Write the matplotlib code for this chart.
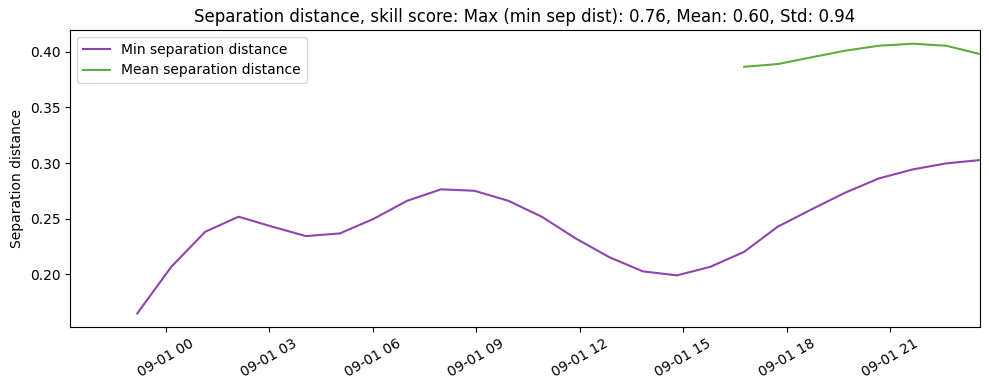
import numpy as np
import pandas as pd
import matplotlib
matplotlib.use("Agg")
import matplotlib.pyplot as plt
import matplotlib.dates as mdates

times = pd.to_datetime([
    "2024-08-31 23:11", "2024-09-01 00:10", "2024-09-01 01:09", "2024-09-01 02:07",
    "2024-09-01 03:06", "2024-09-01 04:04", "2024-09-01 05:03", "2024-09-01 06:01",
    "2024-09-01 07:00", "2024-09-01 07:59", "2024-09-01 08:57", "2024-09-01 09:56",
    "2024-09-01 10:54", "2024-09-01 11:53", "2024-09-01 12:52", "2024-09-01 13:50",
    "2024-09-01 14:49", "2024-09-01 15:47", "2024-09-01 16:46", "2024-09-01 17:44",
    "2024-09-01 18:43", "2024-09-01 19:41", "2024-09-01 20:40", "2024-09-01 21:39",
    "2024-09-01 22:37", "2024-09-01 23:36",
])

min_sep = [0.165, 0.2068, 0.2383, 0.2518, 0.2428, 0.2344, 0.2368, 0.2497,
           0.2661, 0.2764, 0.2751, 0.2661, 0.2518, 0.2323, 0.2153, 0.2027,
           0.1991, 0.2068, 0.2203, 0.2428, 0.2584, 0.2733, 0.2862, 0.2943,
           0.2997, 0.3027]

mean_times = times[18:]
mean_sep = [0.3865, 0.3889, 0.3950, 0.4009, 0.4054, 0.4072, 0.4054, 0.3979]

title = "Separation distance, skill score: Max (min sep dist): 0.76, Mean: 0.60, Std: 0.94"

fig, ax = plt.subplots(figsize=(9.89, 3.9), dpi=100)
fig.subplots_adjust(left=0.0708, right=0.991, top=0.923, bottom=0.162)

ax.plot(times, min_sep, color="#8e44ad", linewidth=1.5, label="Min separation distance")
ax.plot(mean_times, mean_sep, color="#5dad3f", linewidth=1.5, label="Mean separation distance")

ax.set_xlim(pd.Timestamp("2024-08-31 21:14"), pd.Timestamp("2024-09-01 23:36"))
ax.set_ylim(0.1529, 0.4195)
ax.xaxis.set_major_locator(mdates.HourLocator(byhour=range(0, 24, 3)))
ax.xaxis.set_major_formatter(mdates.DateFormatter("%m-%d %H"))
plt.setp(ax.get_xticklabels(), rotation=30)

ax.set_ylabel("Separation distance")
ax.set_title(title)
ax.legend(loc="upper left")

fig.savefig("out.png", dpi=100)
